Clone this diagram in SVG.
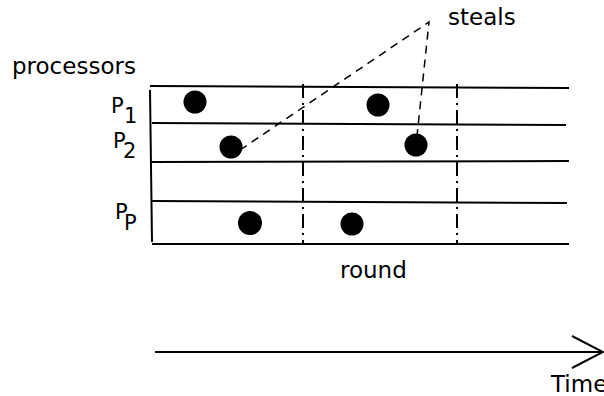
<svg xmlns="http://www.w3.org/2000/svg" width="604" height="396" viewBox="0 0 604 396">
  <style>
    text { font-family: "DejaVu Sans", sans-serif; fill: #000; }
    .lbl { font-size: 23px; }
    .proc { font-size: 21px; }
    .row { stroke: #000; stroke-width: 2; fill: none; }
    .round { stroke: #000; stroke-width: 2; stroke-dasharray: 14 5 2 5; fill: none; }
    .steal { stroke: #000; stroke-width: 1.5; stroke-dasharray: 8 6; fill: none; }
    .task { fill: #000; }
  </style>
  <rect width="604" height="396" fill="#fff"/>

  <g id="labels">
    <text class="lbl" x="12" y="74">processors</text>
    <text class="lbl" x="448" y="25">steals</text>
    <text class="lbl" x="340" y="278">round</text>
    <text class="lbl" x="551" y="392">Time</text>
  </g>

  <g id="proc-labels">
    <text class="proc" x="111" y="113">P</text><text class="proc" x="124" y="123">1</text>
    <text class="proc" x="113" y="148">P</text><text class="proc" x="123" y="158">2</text>
    <text class="proc" x="115" y="219">P</text><text class="proc" x="124" y="230">P</text>
  </g>

  <g id="grid">
    <line class="row" x1="150" y1="86" x2="569" y2="88"/>
    <line class="row" x1="152" y1="123" x2="566" y2="125"/>
    <line class="row" x1="152" y1="162" x2="569" y2="161"/>
    <line class="row" x1="152" y1="201" x2="567" y2="203"/>
    <line class="row" x1="152" y1="244" x2="569" y2="244"/>
    <line class="row" x1="150" y1="90" x2="152" y2="242"/>
    <line class="round" x1="303" y1="84" x2="303" y2="244"/>
    <line class="round" x1="457" y1="84" x2="457" y2="244"/>
  </g>

  <g id="tasks">
    <circle class="task" cx="195" cy="102" r="11.5"/>
    <circle class="task" cx="378" cy="105" r="11.5"/>
    <circle class="task" cx="231" cy="147" r="11.5"/>
    <circle class="task" cx="416" cy="145" r="11.5"/>
    <circle class="task" cx="250" cy="223" r="12"/>
    <circle class="task" cx="352" cy="224" r="11.5"/>
  </g>

  <g id="connectors">
    <polyline class="steal" points="240,150 429,22 417,136"/>
  </g>

  <g id="time-axis">
    <line class="row" x1="155" y1="352" x2="603" y2="352"/>
    <polyline class="row" points="572,336 603,352 572,368"/>
  </g>
</svg>
